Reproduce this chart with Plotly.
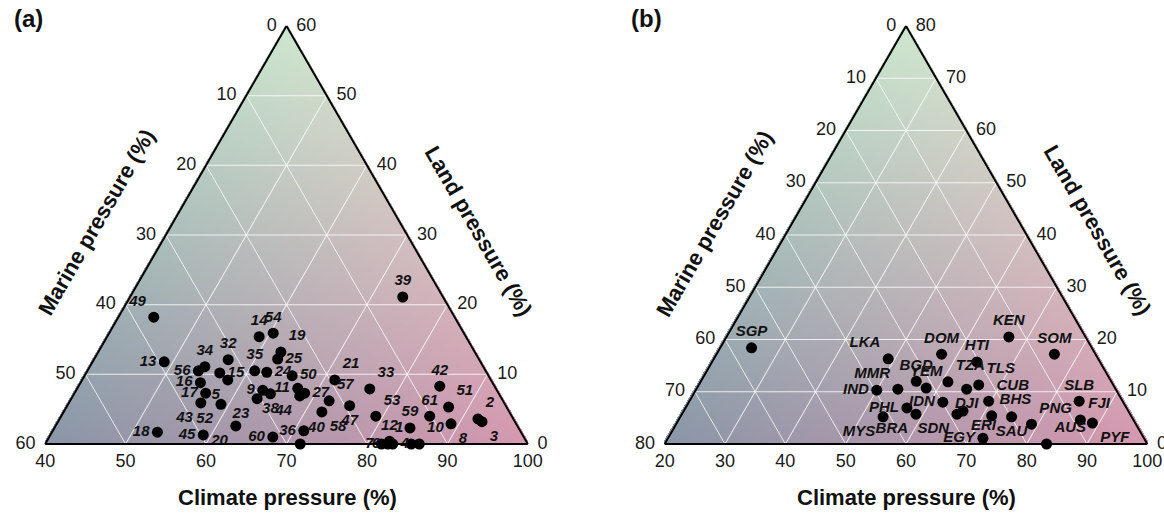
import base64
import struct
import zlib
import numpy as np
import plotly.graph_objects as go

# ---------------- Panel (a) data: climate / marine / land pressure (%) ----------------
a_labels = ["49", "13", "56", "34", "32", "15", "5", "16", "17", "43", "52", "23", "20",
            "45", "18", "14", "54", "19", "25", "35", "24", "50", "9", "38", "11", "44",
            "27", "21", "57", "58", "47", "36", "40", "60", "39", "33", "53", "42", "61",
            "51", "8", "2", "3", "59", "12", "7", "6", "4", "1", "10"]
a_climate = [44.4, 48.9, 53.8, 54.3, 56.7, 56.6, 58.1, 54.9, 56.3, 56.4, 59.0, 63.1, 62.4,
             59.0, 53.1, 58.9, 60.4, 62.7, 62.8, 60.8, 62.4, 65.8, 63.2, 64.4, 67.4, 68.2,
             68.6, 71.4, 72.2, 72.1, 75.1, 71.2, 71.7, 67.8, 73.9, 76.4, 79.1, 84.9, 85.8,
             87.5, 89.0, 92.0, 92.7, 84.2, 82.6, 81.8, 82.6, 83.2, 85.5, 86.5]
a_marine = [37.4, 39.3, 35.7, 34.6, 31.2, 33.2, 32.7, 36.3, 36.4, 37.7, 35.3, 30.4, 35.0,
            39.7, 45.2, 25.7, 23.7, 24.1, 25.0, 28.7, 27.3, 24.4, 29.1, 28.4, 24.6, 24.9,
            24.1, 19.4, 21.6, 23.3, 19.4, 26.9, 28.3, 31.2, 5.0, 15.7, 16.9, 6.8, 10.2,
            7.2, 8.1, 4.4, 4.1, 13.5, 17.0, 18.2, 17.4, 16.8, 14.5, 13.5]
a_land = [18.2, 11.8, 10.5, 11.1, 12.1, 10.2, 9.2, 8.8, 7.3, 5.9, 5.7, 6.5, 2.6,
          1.3, 1.7, 15.4, 15.9, 13.2, 12.2, 10.5, 10.3, 9.8, 7.7, 7.2, 8.0, 6.9,
          7.3, 9.2, 6.2, 4.6, 5.5, 1.9, 0.0, 1.0, 21.1, 7.9, 4.0, 8.3, 4.0,
          5.3, 2.9, 3.6, 3.2, 2.3, 0.4, 0.0, 0.0, 0.0, 0.0, 0.0]

# ---------------- Panel (b) data ----------------
b_labels = ["SGP", "LKA", "DOM", "KEN", "HTI", "SOM", "IND", "MMR", "BGD", "YEM", "TZA",
            "DJI", "TLS", "CUB", "IDN", "PHL", "BRA", "MYS", "SDN", "ERI", "BHS", "SAU",
            "PNG", "EGY", "SLB", "FJI", "PYF", "AUS"]
b_climate = [25.2, 48.9, 57.3, 66.8, 63.9, 76.0, 50.0, 53.4, 55.7, 58.0, 61.0,
             64.8, 66.4, 69.6, 62.1, 56.7, 58.8, 53.6, 65.6, 66.3, 71.5, 74.9,
             78.9, 72.2, 84.6, 86.6, 88.9, 83.3]
b_marine = [56.4, 34.8, 25.5, 12.7, 20.4, 6.8, 39.7, 36.1, 32.3, 31.3, 27.1,
            24.7, 22.3, 22.2, 29.9, 36.4, 35.5, 41.2, 28.7, 27.4, 23.1, 19.9,
            17.3, 26.7, 7.2, 8.8, 7.1, 16.7]
b_land = [18.4, 16.3, 17.2, 20.5, 15.7, 17.2, 10.3, 10.5, 12.0, 10.7, 11.9,
          10.5, 11.3, 8.2, 8.0, 6.9, 5.7, 5.2, 5.7, 6.3, 5.4, 5.2,
          3.8, 1.1, 8.2, 4.6, 4.0, 0.0]

# ---------------- Axis ticks ----------------
a_climate_ticks = [40, 50, 60, 70, 80, 90, 100]
a_marine_ticks = [0, 10, 20, 30, 40, 50, 60]
a_land_ticks = [0, 10, 20, 30, 40, 50, 60]
b_climate_ticks = [20, 30, 40, 50, 60, 70, 80, 90, 100]
b_marine_ticks = [0, 10, 20, 30, 40, 50, 60, 70, 80]
b_land_ticks = [0, 10, 20, 30, 40, 50, 60, 70, 80]

# label placement (style)
a_textpos = ["top left", "middle left", "middle left", "top center", "top center", "middle right",
             "bottom left", "middle left", "middle left", "bottom left", "bottom left", "bottom left",
             "bottom left", "middle left", "middle left", "top center", "top center", "top right",
             "middle right", "top center", "middle right", "middle right", "middle left",
             "bottom center", "middle left", "bottom left", "middle right", "top right", "top right",
             "bottom right", "bottom center", "middle left", "top right", "middle left", "top center",
             "top right", "top right", "top center", "top center", "top right", "bottom right",
             "top right", "bottom right", "top center", "top center", "middle left", "middle left",
             "middle right", "top left", "top right"]
b_textpos = ["top center", "top left", "top center", "top center", "top center", "top center",
             "middle left", "top left", "top center", "top center", "top right", "bottom center",
             "top right", "top right", "middle left", "middle left", "bottom left", "bottom left",
             "bottom left", "bottom right", "top right", "bottom center", "top right", "middle left",
             "top center", "top right", "bottom right", "top right"]

FIG_W, FIG_H = 1164, 515
# triangle bounding boxes in pixels (left, top, right, bottom)
BOX_A = (45, 26, 528, 444)
BOX_B = (664, 26, 1148, 444)

TOP_COL = np.array([206, 231, 207], dtype=float)   # land vertex
BL_COL = np.array([138, 150, 167], dtype=float)    # marine vertex
BR_COL = np.array([214, 152, 176], dtype=float)    # climate vertex


def gradient_uri(w, h):
    jj, ii = np.meshgrid(np.arange(w), np.arange(h))
    l = 1.0 - (ii + 0.5) / h
    xf = (jj + 0.5) / w
    c = xf - l / 2.0
    m = 1.0 - c - l
    inside = (c >= -0.004) & (m >= -0.004) & (l >= 0)
    lc, mc, cc = np.clip(l, 0, 1), np.clip(m, 0, 1), np.clip(c, 0, 1)
    s = lc + mc + cc
    rgb = (lc[..., None] * TOP_COL + mc[..., None] * BL_COL + cc[..., None] * BR_COL) / s[..., None]
    rgba = np.zeros((h, w, 4), dtype=np.uint8)
    rgba[..., :3] = np.clip(rgb, 0, 255).astype(np.uint8)
    rgba[..., 3] = np.where(inside, 255, 0).astype(np.uint8)
    raw = b"".join(b"\x00" + rgba[y].tobytes() for y in range(h))

    def chunk(t, d):
        return struct.pack(">I", len(d)) + t + d + struct.pack(">I", zlib.crc32(t + d) & 0xFFFFFFFF)

    png = (b"\x89PNG\r\n\x1a\n"
           + chunk(b"IHDR", struct.pack(">IIBBBBB", w, h, 8, 6, 0, 0, 0))
           + chunk(b"IDAT", zlib.compress(raw, 9))
           + chunk(b"IEND", b""))
    return "data:image/png;base64," + base64.b64encode(png).decode()


def px_x(x):
    return x / FIG_W


def px_y(y):
    return 1 - y / FIG_H


TICK_FONT = dict(family="Liberation Sans, Arial, sans-serif", size=18, color="#1a1a1a")
PT_FONT = dict(family="Liberation Sans, Arial, sans-serif", size=15, color="#111111",
               weight="bold", style="italic")
TITLE_FONT = dict(family="Liberation Sans, Arial, sans-serif", size=22, color="#111111")

fig = go.Figure()


def add_panel(sub, climate, marine, land, labels, textpos, cmin, cticks, mticks, lticks):
    total = 100
    # points
    fig.add_trace(go.Scatterternary(
        subplot=sub, a=land, b=marine, c=climate, mode="markers+text", text=labels,
        textposition=textpos, textfont=PT_FONT, cliponaxis=False, hoverinfo="skip",
        marker=dict(color="black", size=11, line=dict(width=0)), showlegend=False))
    tr = dict(mode="markers+text", cliponaxis=False, hoverinfo="skip", showlegend=False,
              marker=dict(color="rgba(0,0,0,0)", size=14), textfont=TICK_FONT, subplot=sub)
    mmax = total - cmin
    # marine ticks on left edge
    fig.add_trace(go.Scatterternary(a=[mmax - v for v in mticks], b=mticks, c=[cmin] * len(mticks),
                                    text=[str(v) for v in mticks], textposition="middle left", **tr))
    # land ticks on right edge
    fig.add_trace(go.Scatterternary(a=lticks, b=[0] * len(lticks), c=[total - v for v in lticks],
                                    text=[str(v) for v in lticks], textposition="middle right", **tr))
    # climate ticks on bottom edge
    fig.add_trace(go.Scatterternary(a=[0] * len(cticks), b=[total - v for v in cticks], c=cticks,
                                    text=[str(v) for v in cticks], textposition="bottom center", **tr))


add_panel("ternary", a_climate, a_marine, a_land, a_labels, a_textpos, 40,
          a_climate_ticks, a_marine_ticks, a_land_ticks)
add_panel("ternary2", b_climate, b_marine, b_land, b_labels, b_textpos, 20,
          b_climate_ticks, b_marine_ticks, b_land_ticks)


def axis(mn):
    return dict(min=mn, tick0=0, dtick=10, showticklabels=False, ticks="", showline=True,
                linecolor="black", linewidth=2, showgrid=True, gridcolor="rgba(255,255,255,0.8)",
                gridwidth=1, title=dict(text=""))


def ternary_layout(box, cmin):
    l, t, r, b = box
    return dict(sum=100, bgcolor="rgba(0,0,0,0)",
                domain=dict(x=[px_x(l), px_x(r)], y=[px_y(b), px_y(t)]),
                aaxis=axis(0), baxis=axis(0), caxis=axis(cmin))


images = []
for box in (BOX_A, BOX_B):
    l, t, r, b = box
    images.append(dict(source=gradient_uri(r - l, b - t), xref="paper", yref="paper",
                       x=px_x(l), y=px_y(t), sizex=(r - l) / FIG_W, sizey=(b - t) / FIG_H,
                       xanchor="left", yanchor="top", sizing="stretch", layer="below"))


def ann(text, x, y, angle=0, size=22):
    return dict(text="<b>" + text + "</b>", x=px_x(x), y=px_y(y), xref="paper", yref="paper",
                showarrow=False, textangle=angle, xanchor="center", yanchor="middle",
                font=dict(TITLE_FONT, size=size))


annotations = [
    ann("(a)", 28, 18, size=24),
    ann("(b)", 646, 18, size=24),
    ann("Marine pressure (%)", 96, 222, -60),
    ann("Land pressure (%)", 479, 231, 60),
    ann("Climate pressure (%)", 287, 497),
    ann("Marine pressure (%)", 715, 224, -60),
    ann("Land pressure (%)", 1098, 230, 60),
    ann("Climate pressure (%)", 906, 497),
]

fig.update_layout(
    width=FIG_W, height=FIG_H, margin=dict(l=0, r=0, t=0, b=0),
    paper_bgcolor="white", plot_bgcolor="white", showlegend=False,
    ternary=ternary_layout(BOX_A, 40), ternary2=ternary_layout(BOX_B, 20),
    images=images, annotations=annotations,
)

fig.write_html("out.html", config={"displayModeBar": False},
               post_script="document.body.style.margin='0';")
